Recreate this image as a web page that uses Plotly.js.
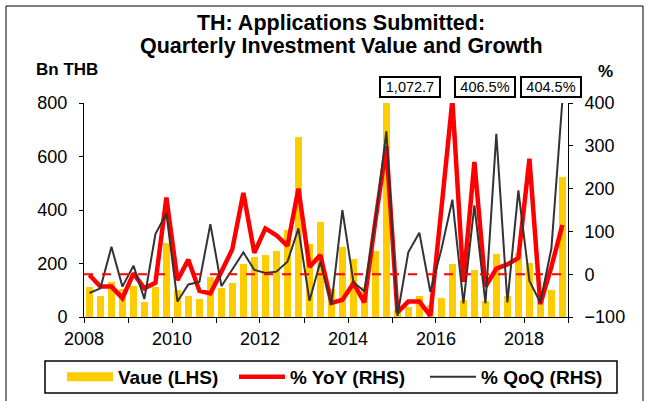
<!DOCTYPE html>
<html>
<head>
<meta charset="utf-8">
<script src="https://cdn.plot.ly/plotly-3.0.1.min.js"></script>
<style>html,body{margin:0;padding:0;background:#fff;}#chart{width:649px;height:401px;}</style>
</head>
<body>
<div id="chart"></div>
<script>
// Quarters (2008Q1 .. 2018Q4)
var quarters = [
  '2008Q1','2008Q2','2008Q3','2008Q4','2009Q1','2009Q2','2009Q3','2009Q4',
  '2010Q1','2010Q2','2010Q3','2010Q4','2011Q1','2011Q2','2011Q3','2011Q4',
  '2012Q1','2012Q2','2012Q3','2012Q4','2013Q1','2013Q2','2013Q3','2013Q4',
  '2014Q1','2014Q2','2014Q3','2014Q4','2015Q1','2015Q2','2015Q3','2015Q4',
  '2016Q1','2016Q2','2016Q3','2016Q4','2017Q1','2017Q2','2017Q3','2017Q4',
  '2018Q1','2018Q2','2018Q3','2018Q4'
];
// Investment value, Bn THB (LHS)
var value = [
  111, 78, 131, 103,   117, 57, 111, 275,
  101, 80, 68, 148,    109, 128, 198, 223,
  230, 245, 325, 673,  272, 354, 106, 262,
  216, 111, 246, 1072.7, 25, 38, 78, 45,
  70, 200, 63, 175,    60, 235, 80, 240,
  203, 70, 101, 523
];
// % YoY (RHS)
var yoy = [
  -2, -29, -29, -56,   2, -33, -20, 179,
  -14, 34, -39, -45,   6, 58, 190, 50,
  107, 91, 66, 200,    17, 45, -67, -60,
  -21, -66, 125, 299,  -89, -64, -64, -97,
  153, 406.5, -18, 262, -29, 13, 23, 38,
  270, -70, 17, 115
];
// % QoQ (RHS)
var qoq = [
  -44, -33, 64, -29,   20, -58, 94, 142,
  -64, -24, -18, 117,  -28, 12, 51, 10,
  3, 6, 29, 107,       -62, 29, -71, 150,
  -19, -40, 125, 334,  -97, 51, 97, -41,
  58, 174, -68, 161,   -68, 328, -66, 196,
  -16, -66, 60, 404.5
];
// Axis ticks
var tickYears = ['2008','2009','2010','2011','2012','2013','2014','2015','2016','2017','2018','2019'];
var tickLabels = ['2008','','2010','','2012','','2014','','2016','','2018',''];
var callouts = ['1,072.7','406.5%','404.5%'];
var titleLines = ['TH: Applications Submitted:', 'Quarterly Investment Value and Growth'];

var midMonth = {Q1:'02-15', Q2:'05-16', Q3:'08-16', Q4:'11-15'};
var xDates = quarters.map(function(q){ return q.slice(0,4) + '-' + midMonth[q.slice(4)]; });
var tickVals = tickYears.map(function(y){ return y + '-01-01'; });

// pixel helpers (plot area: x 84..568, y 103..317)
function px(x){ return (x - 84) / 484; }
function py(y){ return (317 - y) / 214; }

var FONT = 'Arial, "Liberation Sans", sans-serif';
var DAY = 86400000;

var traces = [
  {type:'bar', x:xDates, y:value, name:'Vaue (LHS)', marker:{color:'#FFCC00'},
   width:62*DAY, showlegend:false, yaxis:'y'},
  {type:'scatter', mode:'lines', x:[xDates[0]], y:[null], name:'Vaue (LHS)',
   line:{color:'#FFCC00', width:9}, yaxis:'y', legendwidth:111},
  {type:'scatter', mode:'lines', x:xDates, y:yoy, name:'% YoY (RHS)',
   line:{color:'#FF0000', width:4.5}, yaxis:'y2', legendwidth:130},
  {type:'scatter', mode:'lines', x:xDates, y:qoq, name:'% QoQ (RHS)',
   line:{color:'#333333', width:2}, yaxis:'y2', legendwidth:128}
];

var annFont = {family:FONT, size:14.5, color:'#000'};
var titleFont = {family:FONT, size:21.5, weight:'bold', color:'#000'};
var layout = {
  width:649, height:401,
  margin:{l:84, r:81, t:103, b:84, pad:0, autoexpand:false},
  paper_bgcolor:'#fff', plot_bgcolor:'#fff',
  showlegend:true,
  bargap:0,
  title:{text:titleLines[0], font:titleFont,
    xref:'container', yref:'container', x:341/649, xanchor:'center', y:1-22/401, yanchor:'middle'},
  xaxis:{type:'date', range:['2008-01-01','2019-01-01'], tickmode:'array', tickvals:tickVals, ticktext:tickLabels,
    showline:true, linecolor:'#000', linewidth:1, ticks:'outside', ticklen:5, tickcolor:'#000', tickwidth:1,
    showgrid:false, zeroline:false, tickfont:{family:FONT, size:18, color:'#000'}, fixedrange:true},
  yaxis:{range:[0,800], tick0:0, dtick:200, showline:true, linecolor:'#000', linewidth:1,
    ticks:'outside', ticklen:4, tickcolor:'#000', showgrid:false, zeroline:false,
    tickfont:{family:FONT, size:18, color:'#000'}, ticklabelstandoff:8},
  yaxis2:{range:[-100,400], tick0:-100, dtick:100, overlaying:'y', side:'right', showline:true,
    linecolor:'#000', linewidth:1, ticks:'outside', ticklen:4, tickcolor:'#000', showgrid:false,
    zeroline:false, tickfont:{family:FONT, size:18, color:'#000'}, ticklabelstandoff:8},
  legend:{orientation:'h', xref:'paper', yref:'paper', x:px(62), xanchor:'left',
    y:py(377), yanchor:'middle', itemwidth:46, bgcolor:'rgba(0,0,0,0)', borderwidth:0,
    font:{family:FONT, size:19, weight:'bold', color:'#000'}, traceorder:'normal'},
  shapes:[
    {type:'line', xref:'paper', yref:'y2', x0:0, x1:1, y0:0, y1:0,
     line:{color:'#FF0000', width:2, dash:'dash'}, layer:'above'},
    {type:'rect', xref:'paper', yref:'paper', x0:px(45), x1:px(617), y0:py(393), y1:py(361),
     line:{color:'#000', width:1.5}},
    {type:'path', xref:'paper', yref:'paper',
     path:'M '+px(6)+' '+py(420)+' L '+px(6)+' '+py(6)+' L '+px(643)+' '+py(6)+' L '+px(643)+' '+py(420),
     line:{color:'#000', width:1}}
  ],
  annotations:[
    {xref:'paper', yref:'paper', x:px(341), y:py(46), text:titleLines[1], showarrow:false,
     xanchor:'center', yanchor:'middle', font:titleFont},
    {xref:'paper', yref:'paper', x:px(67), y:py(69), text:'Bn THB', showarrow:false,
     xanchor:'center', yanchor:'middle', font:{family:FONT, size:17, weight:'bold', color:'#000'}},
    {xref:'paper', yref:'paper', x:px(605), y:py(71), text:'%', showarrow:false,
     xanchor:'center', yanchor:'middle', font:{family:FONT, size:17, weight:'bold', color:'#000'}},
    {xref:'paper', yref:'paper', x:px(410), y:py(87), text:callouts[0], showarrow:false,
     xanchor:'center', yanchor:'middle', font:annFont, bgcolor:'#fff', bordercolor:'#000',
     borderwidth:2, borderpad:1, width:56, height:16},
    {xref:'paper', yref:'paper', x:px(485), y:py(87), text:callouts[1], showarrow:false,
     xanchor:'center', yanchor:'middle', font:annFont, bgcolor:'#fff', bordercolor:'#000',
     borderwidth:2, borderpad:1, width:56, height:16},
    {xref:'paper', yref:'paper', x:px(551), y:py(87), text:callouts[2], showarrow:false,
     xanchor:'center', yanchor:'middle', font:annFont, bgcolor:'#fff', bordercolor:'#000',
     borderwidth:2, borderpad:1, width:56, height:16}
  ]
};

Plotly.newPlot('chart', traces, layout, {staticPlot:true, displayModeBar:false});
</script>
</body>
</html>
